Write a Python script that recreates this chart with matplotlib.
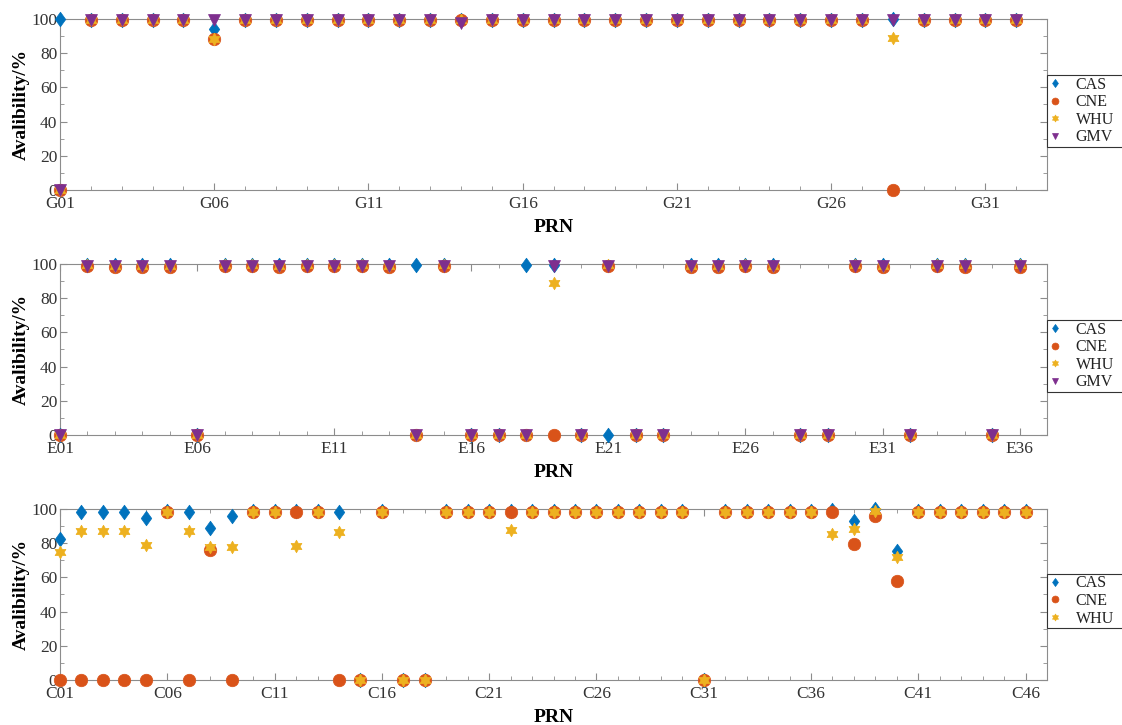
import numpy as np
import matplotlib.pyplot as plt
from matplotlib.path import Path
from matplotlib.ticker import FixedLocator, MultipleLocator, FuncFormatter

# ── DATA (availability in %) ─────────────────────────────────
gps_cas = [100, 99.6, 99.6, 99.6, 99.6, 94, 99.6, 99.6, 99.6, 99.6, 99.6, 99.6, 99.6, 99.6, 99.6, 99.6,
           99.6, 99.6, 99.6, 99.6, 99.6, 99.6, 99.6, 99.6, 99.6, 99.6, 99.6, 99.8, 99.6, 99.6, 99.6, 99.6]
gps_cne = [0, 99.3, 99.3, 99.3, 99.3, 88, 99.3, 99.3, 99.3, 99.3, 99.3, 99.3, 99.3, 99.5, 99.3, 99.3,
           99.3, 99.3, 99.3, 99.3, 99.3, 99.3, 99.3, 99.3, 99.3, 99.3, 99.3, 0, 99.3, 99.3, 99.3, 99.3]
gps_whu = [0, 99.5, 99.5, 99.5, 99.5, 88, 99.5, 99.5, 99.5, 99.5, 99.5, 99.5, 99.5, 99.6, 99.5, 99.5,
           99.5, 99.5, 99.5, 99.5, 99.5, 99.5, 99.5, 99.5, 99.5, 99.5, 99.5, 89, 99.5, 99.5, 99.5, 99.5]
gps_gmv = [0, 99.3, 99.3, 99.3, 99.3, 99.5, 99.3, 99.3, 99.3, 99.3, 99.3, 99.3, 99.3, 97.5, 99.3, 99.3,
           99.3, 99.3, 99.3, 99.3, 99.3, 99.3, 99.3, 99.3, 99.3, 99.3, 99.3, 99.5, 99.3, 99.3, 99.3, 99.3]

gal_cas = [0, 99.5, 99.3, 99.3, 99.3, 0, 99.5, 99.5, 99.3, 99.5, 99.5, 99.5, 99.3, 99.5, 99.5, 0,
           0, 99.5, 99.6, 0, 0, 0, 0, 99.3, 99.5, 99.5, 99.3, 0, 0, 99.6, 99.3, 0,
           99.6, 99.3, 0, 99.3]
gal_cne = [0, 98.5, 98, 98, 98, 0, 98.5, 98.5, 98, 98.5, 98.5, 98.5, 98, 0, 98.5, 0,
           0, 0, 0, 0, 98.5, 0, 0, 98, 98, 98.5, 98, 0, 0, 98.5, 98, 0,
           98.5, 98, 0, 98]
gal_whu = [0, 99.3, 99, 99, 99, 0, 99.3, 99.3, 99, 99.3, 99.3, 99.3, 99, 0, 99.3, 0,
           0, 0, 89, 0, 99.3, 0, 0, 99, 99, 99.3, 99, 0, 0, 99.3, 99, 0,
           99.3, 99.3, 0, 99.3]
gal_gmv = [0, 99, 98.5, 98.5, 98.5, 0, 99, 99, 98.5, 99, 99, 99, 98.5, 0, 99, 0,
           0, 0, 99, 0, 99, 0, 0, 98.5, 98.5, 99, 98.5, 0, 0, 99, 98.5, 0,
           98.5, 98.5, 0, 98.5]

bds_cas = [82.6, 98.2, 98.2, 98.2, 94.6, 98.5, 98, 89, 96, 98.5, 98.5, 98.5, 98.5, 98, 0, 98.5,
           0, 0, 98.5, 98.5, 98.5, 98.5, 98.5, 98.5, 98.5, 98.5, 98.5, 98.5, 98.5, 98.5, 0, 98.5,
           98.5, 98.5, 98.5, 98.5, 99.5, 93, 100, 75.6, 98.5, 98.5, 98.5, 98.5, 98.5, 98.5]
bds_cne = [0, 0, 0, 0, 0, 98, 0, 76, 0, 98, 98, 98, 98, 0, 0, 98,
           0, 0, 98, 98, 98, 98, 98, 98, 98, 98, 98, 98, 98, 98, 0, 98,
           98, 98, 98, 98, 98, 79.5, 96, 58, 98, 98, 98, 98, 98, 98]
bds_whu = [75, 87, 87, 87, 78.6, 98, 87, 78, 77.5, 98, 98, 78.5, 98, 86.6, 0, 98,
           0, 0, 98, 98, 98, 87.5, 98, 98, 98, 98, 98, 98, 98, 98, 0, 98,
           98, 98, 98, 98, 85.5, 88.5, 98.5, 71.8, 98, 98, 98, 98, 98, 98]

# ── STYLE ────────────────────────────────────────────────────
plt.rcParams['font.family'] = ['Liberation Serif', 'DejaVu Serif']

c_cas, c_cne, c_whu, c_gmv = '#0072BD', '#D95319', '#EDB120', '#7E2F8E'

# MATLAB-like diamond and hexagram marker shapes
diamond = Path([(0, 1), (0.72, 0), (0, -1), (-0.72, 0), (0, 1)],
               [Path.MOVETO, Path.LINETO, Path.LINETO, Path.LINETO, Path.CLOSEPOLY])
ang = np.deg2rad(90 + 30 * np.arange(12))
rad = np.where(np.arange(12) % 2 == 0, 1.0, 0.577)
hexagram = Path(np.column_stack([rad * np.cos(ang), rad * np.sin(ang)]).tolist() + [[0, 1]],
                [Path.MOVETO] + [Path.LINETO] * 11 + [Path.CLOSEPOLY])

markers = {
    "CAS": dict(marker=diamond, ms=10.5, color=c_cas),
    "CNE": dict(marker='o', ms=9, color=c_cne),
    "WHU": dict(marker=hexagram, ms=9, color=c_whu),
    "GMV": dict(marker='v', ms=9, color=c_gmv),
}

panels = [
    ("G", {"CAS": gps_cas, "CNE": gps_cne, "WHU": gps_whu, "GMV": gps_gmv}),
    ("E", {"CAS": gal_cas, "CNE": gal_cne, "WHU": gal_whu, "GMV": gal_gmv}),
    ("C", {"CAS": bds_cas, "CNE": bds_cne, "WHU": bds_whu}),
]

fig = plt.figure(figsize=(11.22, 7.25), dpi=100)
bottoms = [0.7379, 0.40, 0.0621]
axis_grey = '#8c8c8c'

for (sys, series), b in zip(panels, bottoms):
    ax = fig.add_axes([0.0535, b, 0.8797, 0.236])
    for name, vals in series.items():
        m = markers[name]
        x = np.arange(1, len(vals) + 1)
        ax.plot(x, vals, linestyle='none', marker=m["marker"], markersize=m["ms"],
                color=m["color"], markeredgecolor=m["color"], markeredgewidth=0.5,
                label=name, clip_on=False, zorder=3)
    n = len(next(iter(series.values())))
    ax.set_xlim(1, n + 1)
    ax.set_ylim(0, 100)

    # labelled PRN every 5 starting at 01, small tick at every PRN
    ax.xaxis.set_major_locator(FixedLocator(np.arange(1, n + 1, 5)))
    ax.xaxis.set_minor_locator(MultipleLocator(1))
    ax.xaxis.set_major_formatter(FuncFormatter(lambda v, p, s=sys: f"{s}{int(round(v)):02d}"))
    ax.yaxis.set_major_locator(MultipleLocator(20))
    ax.yaxis.set_minor_locator(MultipleLocator(10))

    ax.tick_params(which='both', direction='in', top=True, right=True,
                   color=axis_grey, labelcolor='#333333', labelsize=12.5)
    ax.tick_params(axis='y', pad=2)
    ax.tick_params(axis='x', pad=4)
    ax.tick_params(which='major', length=5)
    ax.tick_params(which='minor', length=3)
    for sp in ax.spines.values():
        sp.set_color(axis_grey)
        sp.set_linewidth(0.8)
        sp.set_zorder(1)

    ax.set_xlabel("PRN", fontsize=14, fontweight='bold')
    ax.set_ylabel("Avalibility/%", fontsize=14, fontweight='bold')
    ax.xaxis.set_label_coords(0.5, -0.17)
    ax.yaxis.set_label_coords(-0.031, 0.5)

    # legend hangs off the right edge, cut by the figure border like the original
    nrows = len(series)
    h = 17 * nrows / 172
    leg = ax.legend(loc='center left', bbox_to_anchor=(1.0, 0.462 - h / 2, 0.1, h),
                    mode='expand', borderaxespad=0,
                    fontsize=11.5, markerscale=0.55, handlelength=0.8, handletextpad=0.9,
                    labelspacing=0.1, borderpad=0.1, fancybox=False, framealpha=1)
    leg.get_frame().set_edgecolor('#333333')
    leg.get_frame().set_linewidth(0.8)
    for t in leg.get_texts():
        t.set_color('#222222')

fig.savefig("out.png", dpi=100)
